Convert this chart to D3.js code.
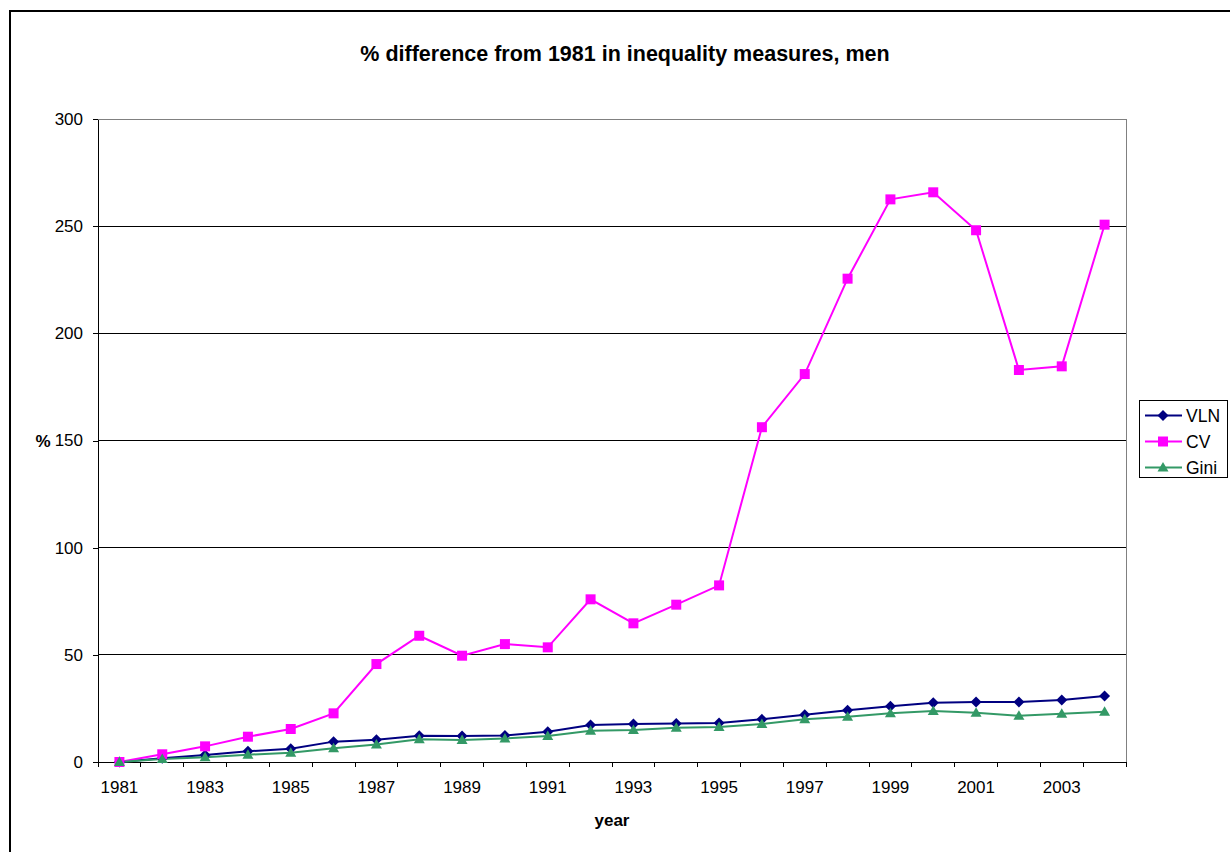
<!DOCTYPE html>
<html><head><meta charset="utf-8">
<script src="https://cdn.jsdelivr.net/npm/d3@7"></script>
<style>body{margin:0;background:#fff}svg{display:block}text{font-family:"Liberation Sans",Arial,sans-serif}</style>
</head><body><svg id="c" width="1230" height="852"></svg>
<script>
const years = ["1981","1982","1983","1984","1985","1986","1987","1988","1989","1990","1991","1992","1993","1994","1995","1996","1997","1998","1999","2000","2001","2002","2003","2004"];
const tickLabels = ["1981","1983","1985","1987","1989","1991","1993","1995","1997","1999","2001","2003"];
const vln = [0,1.7,3.3,5.0,6.2,9.5,10.4,12.3,12.1,12.4,14.1,17.3,17.7,18.0,18.2,19.9,22.1,24.1,26.0,27.7,28.0,28.0,28.9,30.8];
const cv = [0,3.6,7.3,11.8,15.4,22.7,45.7,58.9,49.6,55.0,53.5,75.9,64.7,73.4,82.4,156.2,181.0,225.5,262.5,265.8,248.1,182.9,184.6,250.7];
const gini = [0,1.4,2.2,3.4,4.3,6.4,8.2,10.6,10.3,11.0,12.1,14.6,14.9,16.0,16.3,17.7,19.9,21.1,22.7,23.8,23.0,21.6,22.5,23.5];
const yTicks = [0,50,100,150,200,250,300];
const seriesNames = ["VLN","CV","Gini"];
const seriesColors = ["#000080","#FF00FF","#339966"];
const seriesData = [vln, cv, gini];

const markerPaths = [
  "M0,-5.5L5.5,0L0,5.5L-5.5,0Z",
  "M-5,-5L5,-5L5,5L-5,5Z",
  "M0,-5.5L5.5,4L-5.5,4Z"
];

const svg = d3.select("#c");
const L=98, R=1126, T=119, B=762;
svg.append("rect").attr("x",10).attr("y",11).attr("width",1240).attr("height",880)
  .attr("fill","none").attr("stroke","#000").attr("stroke-width",2);

const x = d3.scaleBand().domain(years).range([L,R]);
const y = d3.scaleLinear().domain([0,300]).range([B,T]);

svg.append("g").selectAll("line").data(yTicks.filter(d=>d>0)).join("line")
  .attr("x1",L).attr("x2",R).attr("y1",d=>y(d)).attr("y2",d=>y(d))
  .attr("stroke","#000").attr("stroke-width",1).attr("shape-rendering","crispEdges");
svg.append("line").attr("x1",R).attr("x2",R).attr("y1",T).attr("y2",B)
  .attr("stroke","#808080").attr("stroke-width",1).attr("shape-rendering","crispEdges");
svg.append("line").attr("x1",L).attr("x2",R).attr("y1",T).attr("y2",T)
  .attr("stroke","#808080").attr("stroke-width",1).attr("shape-rendering","crispEdges");

const yAxis = d3.axisLeft(y).tickValues(yTicks).tickSize(5).tickPadding(10).tickSizeOuter(0);
const gy = svg.append("g").attr("transform",`translate(${L},0)`).call(yAxis);
gy.selectAll("text").attr("font-size",17).attr("fill","#000");
gy.selectAll("line,path").attr("stroke","#000").attr("shape-rendering","crispEdges");

const gx = svg.append("g").attr("transform",`translate(0,${B})`);
gx.append("line").attr("x1",L).attr("x2",R).attr("stroke","#000").attr("shape-rendering","crispEdges");
const bounds = years.map(d=>x(d)).concat([R]);
gx.selectAll("line.tk").data(bounds).join("line").attr("class","tk")
  .attr("x1",d=>d).attr("x2",d=>d).attr("y1",0).attr("y2",5).attr("stroke","#000").attr("shape-rendering","crispEdges");
gx.selectAll("text").data(tickLabels).join("text")
  .attr("x",d=>x(d)+x.bandwidth()/2).attr("y",31).attr("text-anchor","middle")
  .attr("font-size",17).text(d=>d);

seriesData.forEach((data,i)=>{
  const line = d3.line().x((d,j)=>x(years[j])+x.bandwidth()/2).y(d=>y(d));
  svg.append("path").datum(data).attr("d",line).attr("fill","none")
    .attr("stroke",seriesColors[i]).attr("stroke-width",2);
});
seriesData.forEach((data,i)=>{
  svg.append("g").selectAll("path").data(data).join("path")
    .attr("transform",(d,j)=>`translate(${x(years[j])+x.bandwidth()/2},${y(d)})`)
    .attr("d",markerPaths[i]).attr("fill",seriesColors[i]);
});

svg.append("text").attr("x",625).attr("y",61).attr("text-anchor","middle")
  .attr("font-size",21.5).attr("font-weight","bold").text("% difference from 1981 in inequality measures, men");
svg.append("text").attr("x",612).attr("y",826).attr("text-anchor","middle")
  .attr("font-size",17).attr("font-weight","bold").text("year");
svg.append("text").attr("x",43).attr("y",447).attr("text-anchor","middle")
  .attr("font-size",17).attr("font-weight","bold").text("%");

const lg = svg.append("g");
lg.append("rect").attr("x",1139.5).attr("y",400.5).attr("width",88).attr("height",77)
  .attr("fill","#fff").attr("stroke","#000").attr("stroke-width",1);
seriesNames.forEach((n,i)=>{
  const yy = 415.5 + i*26;
  lg.append("line").attr("x1",1145).attr("x2",1182).attr("y1",yy).attr("y2",yy)
    .attr("stroke",seriesColors[i]).attr("stroke-width",2);
  lg.append("path").attr("transform",`translate(1163,${yy})`)
    .attr("d",markerPaths[i]).attr("fill",seriesColors[i]);
  lg.append("text").attr("x",1186).attr("y",yy+6).attr("font-size",17.5).text(n);
});
</script></body></html>
